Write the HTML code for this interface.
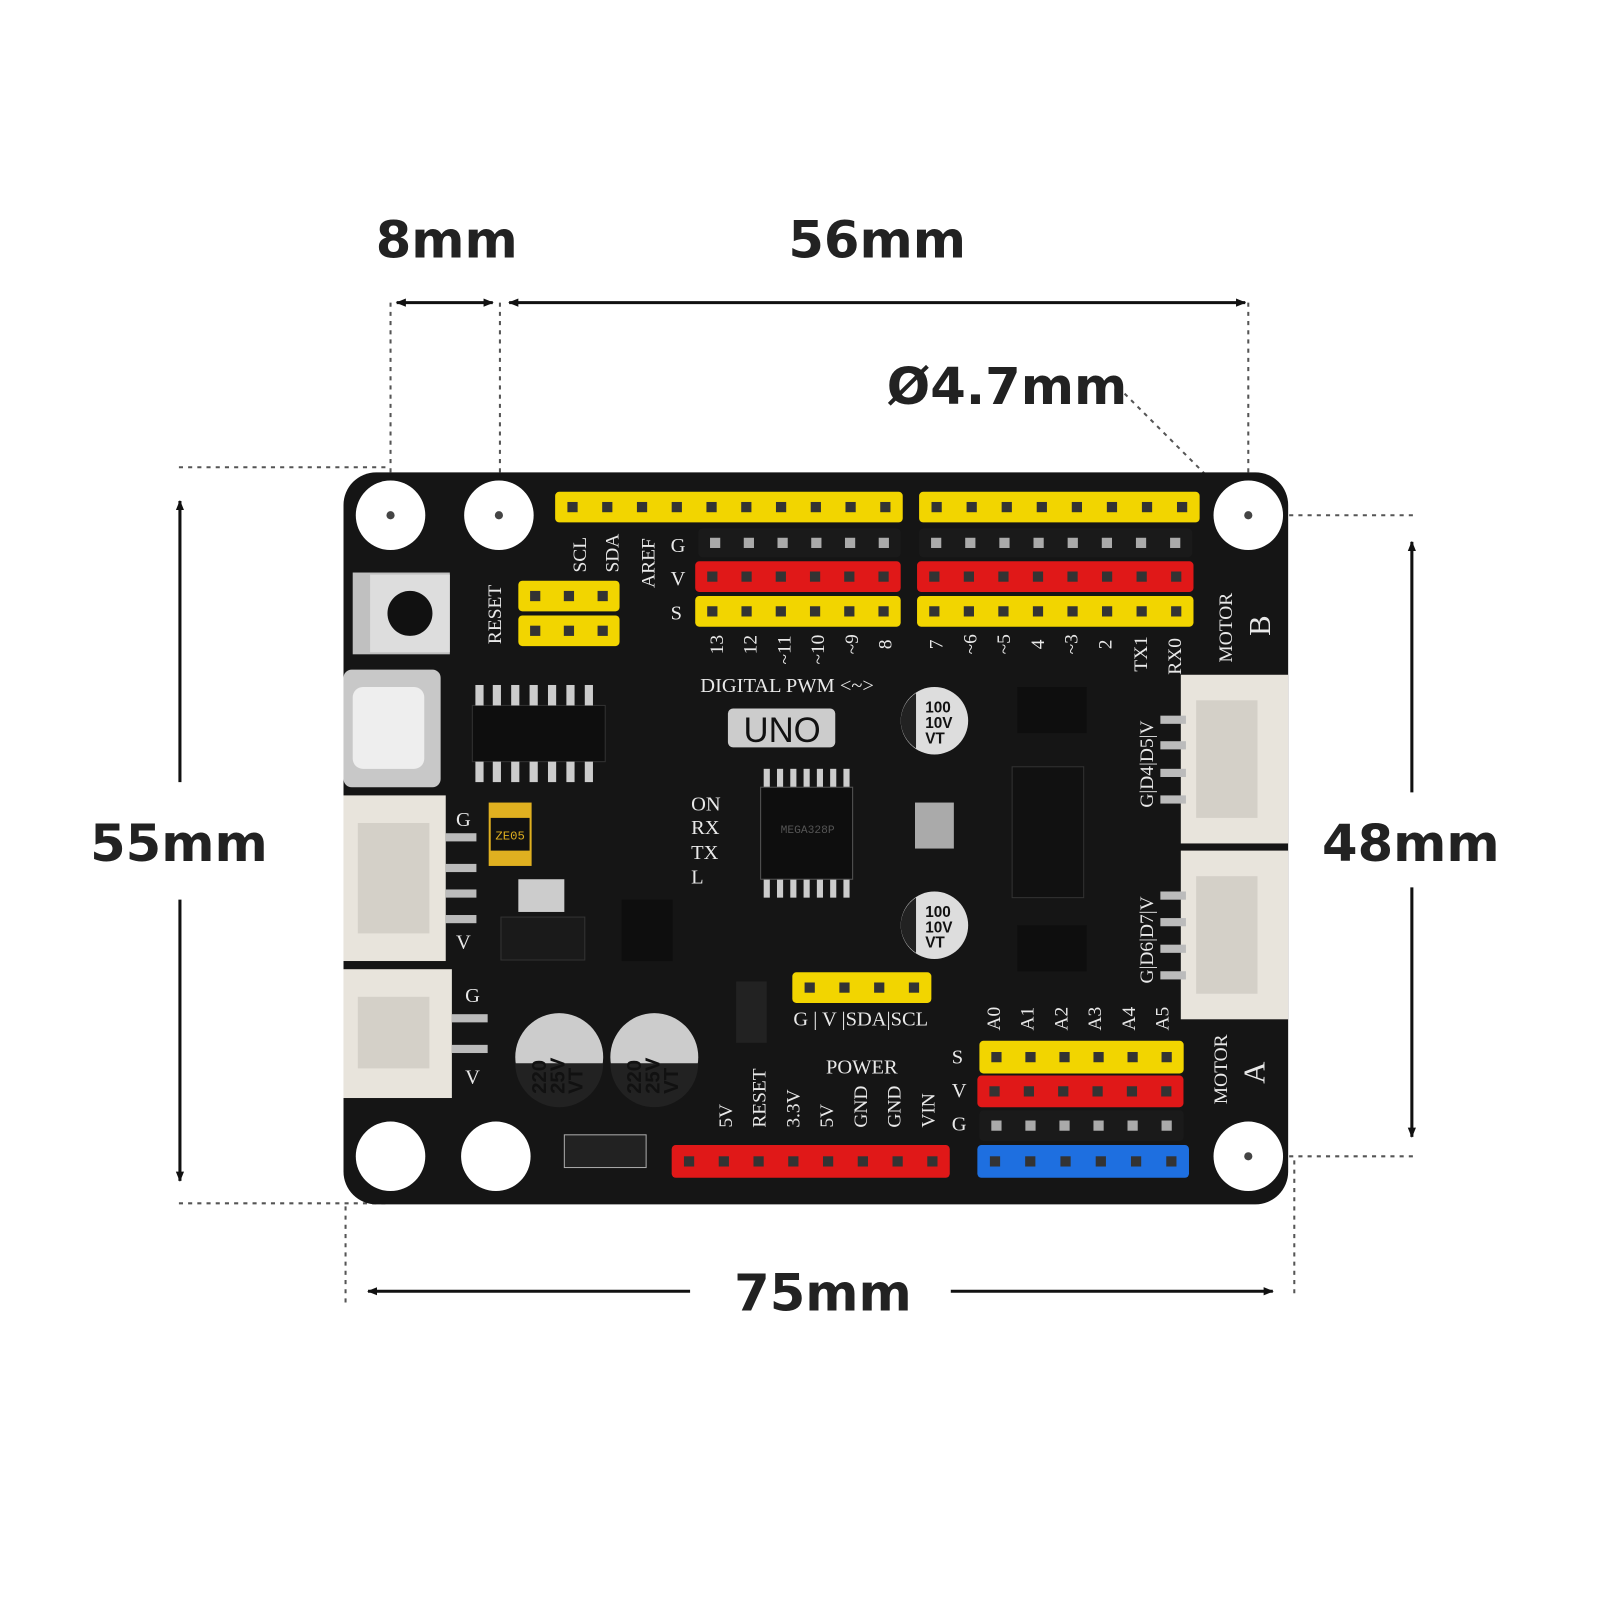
<!DOCTYPE html>
<html><head><meta charset="utf-8">
<style>
html,body{margin:0;padding:0;background:#fff;}
svg{display:block;}
.dim{font-family:"DejaVu Sans","Liberation Sans",sans-serif;font-weight:bold;font-size:50px;fill:#222;}
.silk{font-family:"Liberation Serif",serif;fill:#e8e8e8;}
</style></head>
<body>
<svg id="s" width="1601" height="1600" viewBox="0 0 1566 1565" preserveAspectRatio="none" xmlns="http://www.w3.org/2000/svg">
<defs>
<marker id="ar" markerWidth="10" markerHeight="10" refX="9" refY="5" orient="auto-start-reverse" markerUnits="userSpaceOnUse"><path d="M0,1 L10,5 L0,9 z" fill="#111"/></marker>
</defs>
<g stroke="#111" stroke-width="3" fill="none">
<line x1="388" y1="296" x2="482" y2="296" marker-start="url(#ar)" marker-end="url(#ar)"/>
<line x1="498" y1="296" x2="1218" y2="296" marker-start="url(#ar)" marker-end="url(#ar)"/>
<line x1="176" y1="490" x2="176" y2="765" marker-start="url(#ar)"/>
<line x1="176" y1="880" x2="176" y2="1155" marker-end="url(#ar)"/>
<line x1="1381" y1="530" x2="1381" y2="775" marker-start="url(#ar)"/>
<line x1="1381" y1="868" x2="1381" y2="1112" marker-end="url(#ar)"/>
<line x1="360" y1="1263" x2="675" y2="1263" marker-start="url(#ar)"/>
<line x1="930" y1="1263" x2="1245" y2="1263" marker-end="url(#ar)"/>
</g>
<g stroke="#555" stroke-width="2" stroke-dasharray="4,5" fill="none">
<line x1="382" y1="296" x2="382" y2="500"/>
<line x1="489" y1="296" x2="489" y2="500"/>
<line x1="1221" y1="296" x2="1221" y2="500"/>
<line x1="175" y1="457" x2="380" y2="457"/>
<line x1="175" y1="1177" x2="380" y2="1177"/>
<line x1="1225" y1="504" x2="1385" y2="504"/>
<line x1="1225" y1="1131" x2="1385" y2="1131"/>
<line x1="338" y1="1180" x2="338" y2="1275"/>
<line x1="1266" y1="1135" x2="1266" y2="1270"/>
<line x1="1100" y1="385" x2="1215" y2="500"/>
</g>
<text class="dim" x="437" y="252" text-anchor="middle">8mm</text>
<text class="dim" x="858" y="252" text-anchor="middle">56mm</text>
<text class="dim" x="985" y="395" text-anchor="middle">Ø4.7mm</text>
<text class="dim" x="175" y="842" text-anchor="middle">55mm</text>
<text class="dim" x="1380" y="842" text-anchor="middle">48mm</text>
<text class="dim" x="805" y="1282" text-anchor="middle">75mm</text>

<rect x="336" y="462" width="924" height="716" rx="32" fill="#151515"/>
<g fill="#fff">
<circle cx="382" cy="504" r="34"/><circle cx="488" cy="504" r="34"/><circle cx="1221" cy="504" r="34"/>
<circle cx="382" cy="1131" r="34"/><circle cx="485" cy="1131" r="34"/><circle cx="1221" cy="1131" r="34"/>
</g>
<g fill="#444"><circle cx="382" cy="504" r="4"/><circle cx="488" cy="504" r="4"/><circle cx="1221" cy="504" r="4"/><circle cx="1221" cy="1131" r="4"/></g>
<g id="pins"></g>

<rect x="336" y="655" width="95" height="115" rx="8" fill="#c8c8c8"/>
<rect x="345" y="672" width="70" height="80" rx="10" fill="#eee"/>
<rect x="336" y="778" width="100" height="162" fill="#e8e4dc"/>
<rect x="350" y="805" width="70" height="108" fill="#d4d0c8"/>
<rect x="336" y="948" width="106" height="126" fill="#e8e4dc"/>
<rect x="350" y="975" width="70" height="70" fill="#d4d0c8"/>
<g fill="#bbb"><rect x="436" y="815" width="30" height="8"/><rect x="436" y="845" width="30" height="8"/><rect x="436" y="870" width="30" height="8"/><rect x="436" y="895" width="30" height="8"/><rect x="442" y="992" width="35" height="8"/><rect x="442" y="1022" width="35" height="8"/></g>
<rect x="1155" y="660" width="105" height="165" fill="#e8e4dc"/>
<rect x="1170" y="685" width="60" height="115" fill="#d4d0c8"/>
<rect x="1155" y="832" width="105" height="165" fill="#e8e4dc"/>
<rect x="1170" y="857" width="60" height="115" fill="#d4d0c8"/>
<g fill="#bbb"><rect x="1135" y="700" width="25" height="8"/><rect x="1135" y="725" width="25" height="8"/><rect x="1135" y="752" width="25" height="8"/><rect x="1135" y="778" width="25" height="8"/><rect x="1135" y="872" width="25" height="8"/><rect x="1135" y="898" width="25" height="8"/><rect x="1135" y="924" width="25" height="8"/><rect x="1135" y="950" width="25" height="8"/></g>

<rect x="345" y="560" width="95" height="80" fill="#c0c0c0"/>
<rect x="362" y="562" width="78" height="76" fill="#ddd"/>
<circle cx="401" cy="600" r="22" fill="#111"/>
<rect x="462" y="690" width="130" height="55" fill="#0e0e0e" stroke="#333"/>
<g fill="#ccc"><rect x="465" y="670" width="8" height="20"/><rect x="482" y="670" width="8" height="20"/><rect x="500" y="670" width="8" height="20"/><rect x="518" y="670" width="8" height="20"/><rect x="536" y="670" width="8" height="20"/><rect x="554" y="670" width="8" height="20"/><rect x="572" y="670" width="8" height="20"/><rect x="465" y="745" width="8" height="20"/><rect x="482" y="745" width="8" height="20"/><rect x="500" y="745" width="8" height="20"/><rect x="518" y="745" width="8" height="20"/><rect x="536" y="745" width="8" height="20"/><rect x="554" y="745" width="8" height="20"/><rect x="572" y="745" width="8" height="20"/></g>
<g fill="#ccc"><rect x="747" y="752" width="6" height="18"/><rect x="760" y="752" width="6" height="18"/><rect x="773" y="752" width="6" height="18"/><rect x="786" y="752" width="6" height="18"/><rect x="799" y="752" width="6" height="18"/><rect x="812" y="752" width="6" height="18"/><rect x="825" y="752" width="6" height="18"/><rect x="747" y="860" width="6" height="18"/><rect x="760" y="860" width="6" height="18"/><rect x="773" y="860" width="6" height="18"/><rect x="786" y="860" width="6" height="18"/><rect x="799" y="860" width="6" height="18"/><rect x="812" y="860" width="6" height="18"/><rect x="825" y="860" width="6" height="18"/></g>
<rect x="744" y="770" width="90" height="90" fill="#0e0e0e" stroke="#555"/>
<text x="790" y="815" font-family="Liberation Mono" font-size="11" fill="#555" text-anchor="middle">MEGA328P</text>
<rect x="478" y="785" width="42" height="62" fill="#e0b020"/><rect x="480" y="800" width="38" height="32" fill="#111"/>
<text x="499" y="821" font-family="Liberation Mono" font-size="12" fill="#e0b020" text-anchor="middle">ZE05</text>
<rect x="490" y="897" width="82" height="42" fill="#1a1a1a" stroke="#333"/>
<rect x="507" y="860" width="45" height="32" fill="#ccc"/>
<rect x="608" y="880" width="50" height="60" fill="#0e0e0e"/>
<rect x="995" y="672" width="68" height="45" fill="#0e0e0e"/>
<rect x="995" y="905" width="68" height="45" fill="#0e0e0e"/>
<rect x="990" y="750" width="70" height="128" fill="#111" stroke="#333"/>
<rect x="895" y="785" width="38" height="45" fill="#aaa"/>
<rect x="720" y="960" width="30" height="60" fill="#222"/>
<rect x="552" y="1110" width="80" height="32" fill="#222" stroke="#aaa"/>
<rect x="712" y="693" width="105" height="38" rx="5" fill="#ccc"/>
<text x="765" y="726" font-family="Liberation Sans" font-size="34" fill="#111" text-anchor="middle">UNO</text>
<g>
<circle cx="547" cy="1034" r="43" fill="#ccc"/><path d="M504,1040 a43,43 0 0 0 86,0 z" fill="#222"/>
<circle cx="640" cy="1034" r="43" fill="#ccc"/><path d="M597,1040 a43,43 0 0 0 86,0 z" fill="#222"/>
<circle cx="914" cy="705" r="33" fill="#ddd"/><path d="M881,705 a33,33 0 0 0 15,27 v-54 a33,33 0 0 0 -15,27z" fill="#222"/>
<circle cx="914" cy="905" r="33" fill="#ddd"/><path d="M881,905 a33,33 0 0 0 15,27 v-54 a33,33 0 0 0 -15,27z" fill="#222"/>
</g>
<g font-family="Liberation Sans" font-weight="bold" font-size="15" fill="#111">
<text x="905" y="697">100</text><text x="905" y="712">10V</text><text x="905" y="727">VT</text>
<text x="905" y="897">100</text><text x="905" y="912">10V</text><text x="905" y="927">VT</text>
</g>
<g class="silk" font-size="20">
<text x="685" y="677">DIGITAL PWM &lt;~&gt;</text>
<text x="676" y="793">ON</text><text x="676" y="816">RX</text><text x="676" y="840">TX</text><text x="676" y="864">L</text>
<text x="776" y="1003">G | V |SDA|SCL</text>
<text x="808" y="1050">POWER</text>
<text x="446" y="808">G</text><text x="446" y="928">V</text>
<text x="455" y="980">G</text><text x="455" y="1060">V</text>
<text x="931" y="1040">S</text><text x="931" y="1073">V</text><text x="931" y="1106">G</text>
<text x="656" y="540">G</text><text x="656" y="572">V</text><text x="656" y="606">S</text>
</g>
<g class="silk" font-size="19">
<text transform="translate(490,630) rotate(-90)">RESET</text>
<text transform="translate(573,560) rotate(-90)">SCL</text>
<text transform="translate(605,560) rotate(-90)">SDA</text>
<text transform="translate(640,575) rotate(-90)">AREF</text>
<text transform="translate(707,640) rotate(-90)">13</text>
<text transform="translate(740,640) rotate(-90)">12</text>
<text transform="translate(773,650) rotate(-90)">~11</text>
<text transform="translate(806,650) rotate(-90)">~10</text>
<text transform="translate(839,640) rotate(-90)">~9</text>
<text transform="translate(872,635) rotate(-90)">8</text>
<text transform="translate(922,635) rotate(-90)">7</text>
<text transform="translate(955,640) rotate(-90)">~6</text>
<text transform="translate(988,640) rotate(-90)">~5</text>
<text transform="translate(1021,635) rotate(-90)">4</text>
<text transform="translate(1054,640) rotate(-90)">~3</text>
<text transform="translate(1087,635) rotate(-90)">2</text>
<text transform="translate(1122,657) rotate(-90)">TX1</text>
<text transform="translate(1155,660) rotate(-90)">RX0</text>
<text transform="translate(1205,648) rotate(-90)">MOTOR</text>
<text transform="translate(1200,1080) rotate(-90)">MOTOR</text>
<text transform="translate(1128,790) rotate(-90)">G|D4|D5|V</text>
<text transform="translate(1128,962) rotate(-90)">G|D6|D7|V</text>
<text transform="translate(716,1103) rotate(-90)">5V</text>
<text transform="translate(749,1103) rotate(-90)">RESET</text>
<text transform="translate(782,1103) rotate(-90)">3.3V</text>
<text transform="translate(815,1103) rotate(-90)">5V</text>
<text transform="translate(848,1103) rotate(-90)">GND</text>
<text transform="translate(881,1103) rotate(-90)">GND</text>
<text transform="translate(914,1103) rotate(-90)">VIN</text>
<text transform="translate(978,1008) rotate(-90)">A0</text>
<text transform="translate(1011,1008) rotate(-90)">A1</text>
<text transform="translate(1044,1008) rotate(-90)">A2</text>
<text transform="translate(1077,1008) rotate(-90)">A3</text>
<text transform="translate(1110,1008) rotate(-90)">A4</text>
<text transform="translate(1143,1008) rotate(-90)">A5</text>
</g>
<g class="silk" font-size="30">
<text transform="translate(1242,622) rotate(-90)">B</text>
<text transform="translate(1237,1060) rotate(-90)">A</text>
</g>
<g font-family="Liberation Sans" font-weight="bold" font-size="20" fill="#111">
<text transform="translate(534,1070) rotate(-90)">220</text><text transform="translate(552,1070) rotate(-90)">25V</text><text transform="translate(570,1070) rotate(-90)">VT</text>
<text transform="translate(627,1070) rotate(-90)">220</text><text transform="translate(645,1070) rotate(-90)">25V</text><text transform="translate(663,1070) rotate(-90)">VT</text>
</g>
</svg>
<script>
var g=document.getElementById('pins'),NS='http://www.w3.org/2000/svg';
function row(x,y,n,w,h,col){
 var r=document.createElementNS(NS,'rect');r.setAttribute('x',x);r.setAttribute('y',y);r.setAttribute('width',n*w);r.setAttribute('height',h);r.setAttribute('rx',4);r.setAttribute('fill',col);g.appendChild(r);
 for(var i=0;i<n;i++){var p=document.createElementNS(NS,'rect');p.setAttribute('x',x+i*w+w/2-5);p.setAttribute('y',y+h/2-5);p.setAttribute('width',10);p.setAttribute('height',10);p.setAttribute('fill',col=='#1a1a1a'?'#aaa':'#333');g.appendChild(p);}
}
var Y='#f2d500',R='#e01818',K='#1a1a1a',B='#1e6fe0';
row(543,481,10,34,30,Y);row(899,481,8,34.3,30,Y);
row(683,517,6,33,28,K);row(899,517,8,33.4,28,K);
row(680,549,6,33.5,30,R);row(897,549,8,33.8,30,R);
row(680,583,6,33.5,30,Y);row(897,583,8,33.8,30,Y);
row(507,568,3,33,30,Y);row(507,602,3,33,30,Y);
row(958,1018,6,33.3,32,Y);row(956,1052,6,33.6,31,R);row(958,1086,6,33.3,30,K);
row(956,1120,6,34.5,32,B);row(657,1120,8,34,32,R);
row(775,951,4,34,30,Y);
</script>
</body></html>
